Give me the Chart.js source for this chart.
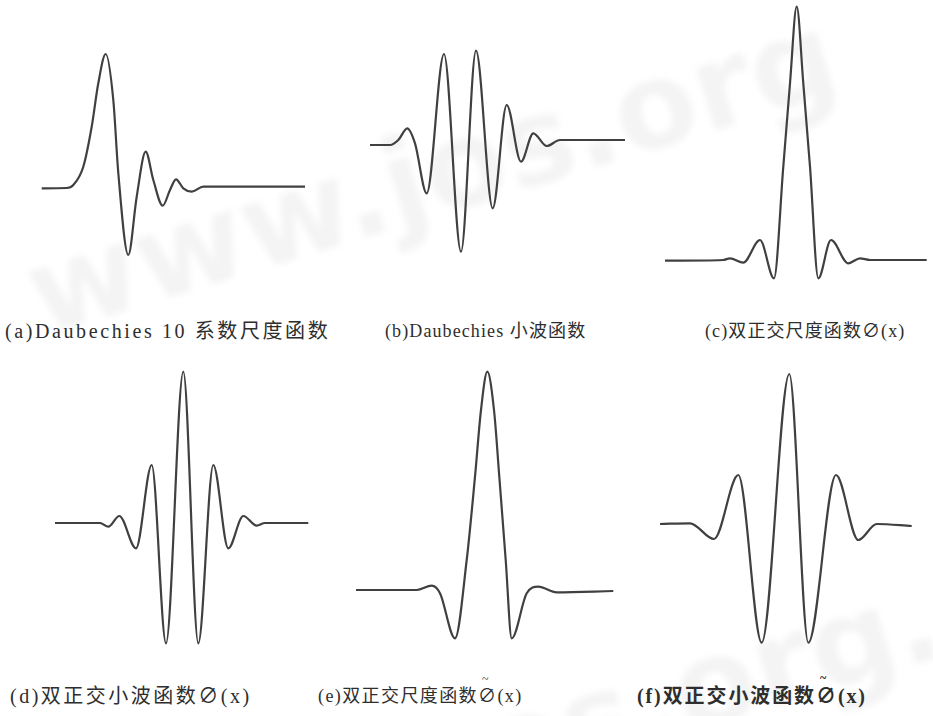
<!DOCTYPE html>
<html>
<head>
<meta charset="utf-8">
<script src="https://cdn.jsdelivr.net/npm/chart.js@4/dist/chart.umd.min.js"></script>
<style>
  html, body { margin:0; padding:0; background:#fff; }
  #stage { position:relative; width:933px; height:716px; overflow:hidden; background:#fff; }
  canvas { position:absolute; }
  .cap { position:absolute; white-space:nowrap; color:#2e2e2e;
         font-family:"Liberation Serif","Noto Sans CJK SC",serif; font-size:18px; letter-spacing:1.6px; }
  .cap.bold { font-weight:bold; }
  .tl { position:relative; display:inline-block; }
  .tl::before { content:"~"; position:absolute; left:4px; top:-9px; font-size:12px; }
  .wm { position:absolute; white-space:nowrap; color:rgba(0,0,0,0.045); font-family:"DejaVu Sans",sans-serif;
        font-weight:bold; filter:blur(3px); transform-origin:left top; }
</style>
</head>
<body>
<div id="stage">
  <div class="wm" style="left:10px;top:230px;font-size:120px;transform:rotate(-17deg);">www.jos.org</div>
  <div class="wm" style="left:420px;top:700px;font-size:120px;transform:rotate(-17deg);">.os.org.cn</div>
</div>
<script>
// ---- data (x: horizontal position units, y: amplitude units) ----
const aX = [0, 2.5, 3.16, 4.16, 5.0, 5.66, 6.4, 7.16, 7.66, 8.66, 9.5, 10.4, 11.16, 12.1, 12.83, 13.43, 14.16, 15.0, 16.16, 26.33];
const aY = [-0.13, -0.1, 0.2, 2.03, 6.03, 10.37, 13.3, 8.7, 1.4, -6.8, -0.97, 3.53, 0.7, -1.87, -0.3, 0.77, -0.13, -0.47, 0.03, 0.03];

const bX = [0, 2, 2.83, 3.73, 4.5, 5.67, 7.4, 9.1, 10.6, 12.27, 13.67, 15.1, 16.33, 17.67, 19, 25.5];
const bY = [-0.3, -0.3, 0.2, 1.37, -0.13, -5.13, 8.8, -10.97, 9.13, -6.63, 3.7, -1.97, 0.87, -0.4, 0.2, 0.2];

const cX = [0, 5.83, 6.5, 7.83, 9.5, 10.9, 11.83, 12.5, 13.17, 13.83, 14.5, 15.33, 16.6, 18.33, 19.5, 20.5, 26.17];
const cY = [-0.07, 0, 0.17, -0.27, 2.0, -1.83, 9.33, 17.67, 25.33, 17.67, 9.33, -1.83, 2.0, -0.33, 0.17, 0, 0];

const dX = [0, 4.5, 5.33, 6.43, 8.1, 9.67, 11.1, 12.83, 14.33, 15.83, 17.33, 18.83, 20.17, 21, 25.33];
const dY = [0, 0, -0.37, 0.7, -2.53, 5.8, -12.03, 15.13, -12.03, 5.8, -2.53, 0.7, -0.27, 0, 0];

const eX = [0, 3.73, 6.07, 7.57, 8.4, 9.9, 11.07, 11.9, 12.5, 13.13, 13.8, 14.33, 14.97, 15.57, 17.07, 18.23, 20.07, 25.73];
const eY = [0, 0, 0, 0.43, -0.33, -4.83, 3.0, 11.33, 18.0, 21.83, 18.0, 11.33, 3.0, -4.83, -0.33, 0.33, -0.23, -0.1];

const fX = [0, 3, 5.4, 7.83, 10.17, 12.93, 14.83, 17.6, 19.83, 21.67, 25.17];
const fY = [0, 0.07, -1.5, 4.9, -11.87, 15.0, -11.87, 4.9, -1.6, 0, -0.2];

const captions = [
  '(a)Daubechies 10 系数尺度函数',
  '(b)Daubechies 小波函数',
  '(c)双正交尺度函数∅(x)',
  '(d)双正交小波函数∅(x)',
  '(e)双正交尺度函数<span class="tl">∅</span>(x)',
  '(f)双正交小波函数<span class="tl">∅</span>(x)'
];

// ---- layout ----
const panels = [
  { xs:aX, ys:aY, box:[30, 40, 290, 230],  xr:[-1.17, 27.83], yr:[-8.3, 14.7] },
  { xs:bX, ys:bY, box:[360, 40, 280, 220], xr:[-1.0, 27.0],   yr:[-11.8, 10.2] },
  { xs:cX, ys:cY, box:[650, 0, 283, 290],  xr:[-1.5, 26.8],   yr:[-3.0, 26.0] },
  { xs:dX, ys:dY, box:[40, 360, 290, 300], xr:[-1.5, 27.5],   yr:[-13.7, 16.3] },
  { xs:eX, ys:eY, box:[340, 360, 290, 300],xr:[-1.6, 27.4],   yr:[-7.0, 23.0] },
  { xs:fX, ys:fY, box:[640, 360, 293, 300],xr:[-2.0, 27.3],   yr:[-13.6, 16.4] }
];
const capPos = [[5, 315], [385, 316], [705, 316], [10, 680], [318, 681], [637, 680]];
const capSpacing = [2.6, 1.1, 1.1, 2.5, 1.4, 1.9];
const capSize = [20, 18, 18, 20, 18, 20];

const stage = document.getElementById('stage');
panels.forEach(p => {
  const cv = document.createElement('canvas');
  cv.width = p.box[2]; cv.height = p.box[3];
  cv.style.left = p.box[0] + 'px'; cv.style.top = p.box[1] + 'px';
  stage.appendChild(cv);
  new Chart(cv, {
    type: 'line',
    data: { datasets: [{
      data: p.xs.map((x, i) => ({ x: x, y: p.ys[i] })),
      borderColor: '#404040', borderWidth: 2.2, pointRadius: 0,
      cubicInterpolationMode: 'monotone', fill: false, clip: false
    }]},
    options: {
      responsive: false, animation: false, events: [],
      layout: { padding: 0 },
      plugins: { legend: { display: false }, tooltip: { enabled: false } },
      scales: {
        x: { type: 'linear', display: false, min: p.xr[0], max: p.xr[1] },
        y: { display: false, min: p.yr[0], max: p.yr[1] }
      }
    }
  });
});
captions.forEach((t, i) => {
  const d = document.createElement('div');
  d.className = 'cap' + (i === 5 ? ' bold' : '');
  d.style.left = capPos[i][0] + 'px'; d.style.top = capPos[i][1] + 'px';
  d.style.letterSpacing = capSpacing[i] + 'px';
  d.style.fontSize = capSize[i] + 'px';
  d.innerHTML = t;
  stage.appendChild(d);
});
</script>
</body>
</html>
